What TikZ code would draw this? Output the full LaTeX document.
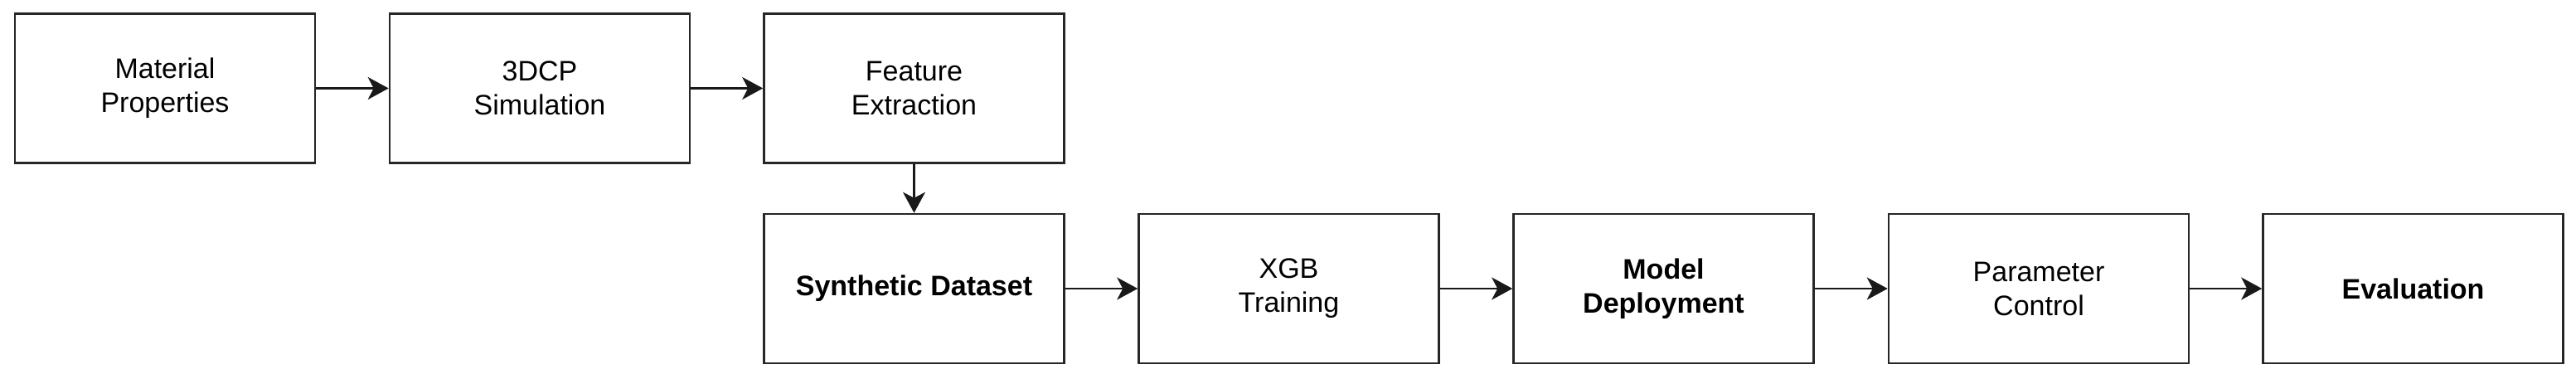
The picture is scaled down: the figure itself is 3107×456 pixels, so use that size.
\documentclass[tikz,border=0pt]{standalone}
\usepackage{fontspec}
\setmainfont{Liberation Sans}
\usetikzlibrary{arrows.meta}
\begin{document}
\begin{tikzpicture}[x=1pt,y=-1pt,
  box/.style={draw=black!85, line width=2.6pt, minimum width=362pt, minimum height=180pt,
    align=center, inner sep=0pt, font=\fontsize{34}{41}\selectfont},
  conn/.style={draw=black!90, line width=2.6pt, -{Stealth[length=25pt,width=27pt,inset=7pt]}}]
\useasboundingbox (0,0) rectangle (3107,456);
\node[box] (mat) at (199,106.5) {Material\\Properties};
\node[box] (sim) at (651,106.5) {3DCP\\Simulation};
\node[box] (fea) at (1102.5,106.5) {Feature\\Extraction};
\node[box, font=\fontsize{34}{41}\selectfont\bfseries] (syn) at (1102.5,348) {Synthetic Dataset};
\node[box] (xgb) at (1554.5,348) {XGB\\Training};
\node[box, font=\fontsize{34}{41}\selectfont\bfseries] (dep) at (2006.5,348) {Model\\Deployment};
\node[box] (par) at (2459,348) {Parameter\\Control};
\node[box, font=\fontsize{34}{41}\selectfont\bfseries] (eva) at (2910.5,348) {Evaluation};
\draw[conn] (mat) -- (sim);
\draw[conn] (sim) -- (fea);
\draw[conn] (fea) -- (syn);
\draw[conn] (syn) -- (xgb);
\draw[conn] (xgb) -- (dep);
\draw[conn] (dep) -- (par);
\draw[conn] (par) -- (eva);
\end{tikzpicture}
\end{document}
